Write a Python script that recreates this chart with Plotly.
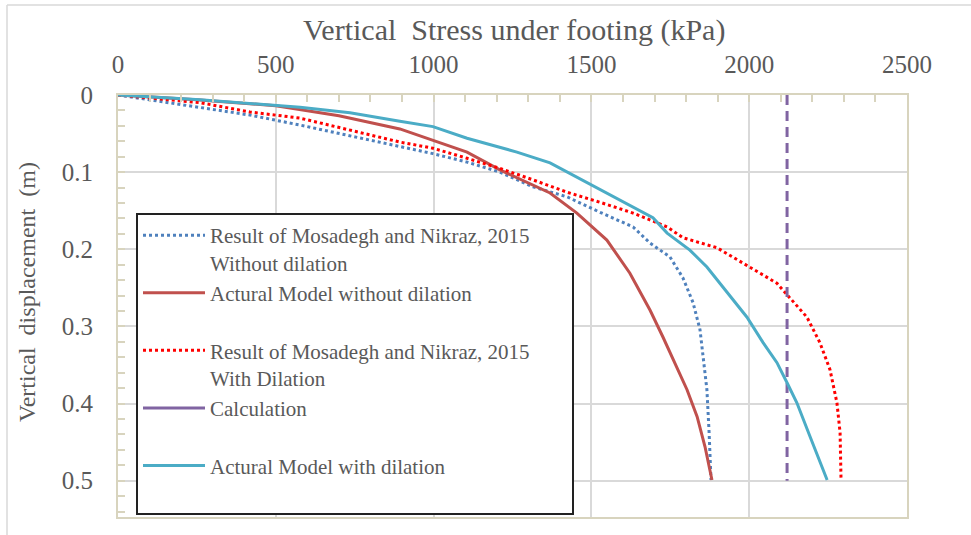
import plotly.graph_objects as go

# ---- data ----
mn_nodil_stress = [0, 260, 418, 577, 893, 998, 1106, 1210, 1315, 1423, 1527, 1632, 1686, 1749, 1790, 1822, 1844, 1854, 1866, 1873, 1879]
mn_nodil_disp = [0, 0.016, 0.026, 0.039, 0.067, 0.076, 0.087, 0.100, 0.119, 0.132, 0.152, 0.171, 0.192, 0.210, 0.237, 0.269, 0.304, 0.339, 0.382, 0.438, 0.499]

model_nodil_stress = [0, 250, 500, 700, 893, 1106, 1210, 1369, 1454, 1549, 1622, 1686, 1727, 1765, 1803, 1835, 1860, 1882]
model_nodil_disp = [0, 0.006, 0.014, 0.027, 0.044, 0.074, 0.097, 0.127, 0.153, 0.188, 0.231, 0.279, 0.314, 0.347, 0.382, 0.417, 0.456, 0.499]

mn_dil_stress = [0, 260, 418, 577, 893, 998, 1106, 1210, 1315, 1423, 1527, 1632, 1740, 1790, 1898, 2003, 2088, 2129, 2183, 2224, 2256, 2278, 2288, 2291]
mn_dil_disp = [0, 0.010, 0.022, 0.030, 0.061, 0.069, 0.082, 0.095, 0.110, 0.126, 0.139, 0.153, 0.171, 0.185, 0.198, 0.223, 0.244, 0.263, 0.288, 0.321, 0.356, 0.399, 0.438, 0.499]

calc_stress = [2120, 2120]
calc_disp = [0, 0.5]

model_dil_stress = [0, 260, 577, 735, 893, 998, 1106, 1264, 1369, 1442, 1527, 1632, 1695, 1740, 1812, 1866, 1917, 1993, 2044, 2088, 2120, 2151, 2193, 2247]
model_dil_disp = [0, 0.006, 0.016, 0.023, 0.034, 0.041, 0.056, 0.074, 0.088, 0.104, 0.123, 0.145, 0.159, 0.179, 0.201, 0.223, 0.249, 0.288, 0.321, 0.347, 0.373, 0.399, 0.443, 0.499]

x_ticks = [0, 500, 1000, 1500, 2000, 2500]
y_ticks = [0, 0.1, 0.2, 0.3, 0.4, 0.5]
y_tick_labels = ["0", "0.1", "0.2", "0.3", "0.4", "0.5"]

PAD = "\u00a0" * 7
names = [
    "Result of Mosadegh and Nikraz, 2015" + PAD + "<br>Without dilation",
    "Actural Model without dilation<br>\u00a0",
    "Result of Mosadegh and Nikraz, 2015<br>With Dilation",
    "Calculation<br>\u00a0",
    "Actural Model with dilation<br>\u00a0",
]

FONT = "Liberation Serif, Times New Roman, serif"
TXT = "#595959"
AX = "#D8D4BE"
GRID = "#D9D9D9"

fig = go.Figure()
fig.add_trace(go.Scatter(x=mn_nodil_stress, y=mn_nodil_disp, mode="lines", name=names[0],
                         line=dict(color="#4F81BD", width=3, dash="dot")))
fig.add_trace(go.Scatter(x=model_nodil_stress, y=model_nodil_disp, mode="lines", name=names[1],
                         line=dict(color="#C0504D", width=3)))
fig.add_trace(go.Scatter(x=mn_dil_stress, y=mn_dil_disp, mode="lines", name=names[2],
                         line=dict(color="#FF0000", width=3, dash="dot")))
fig.add_trace(go.Scatter(x=calc_stress, y=calc_disp, mode="lines", name=names[3], showlegend=False,
                         legendgroup="calc", line=dict(color="#8064A2", width=3, dash="10px,6px")))
fig.add_trace(go.Scatter(x=[None], y=[None], mode="lines", name=names[3], legendgroup="calc",
                         line=dict(color="#8064A2", width=3)))
fig.add_trace(go.Scatter(x=model_dil_stress, y=model_dil_disp, mode="lines", name=names[4],
                         line=dict(color="#4BACC6", width=3)))

L, R, T, B = 118, 64, 95, 18
W, H = 971, 535
pw, ph = W - L - R, H - T - B


def px(x):
    return (x - L) / pw


def py(y):
    return (H - B - y) / ph


fig.update_layout(
    width=W, height=H,
    margin=dict(l=L, r=R, t=T, b=B, autoexpand=False),
    paper_bgcolor="white", plot_bgcolor="white",
    font=dict(family=FONT, color=TXT),
    showlegend=True,
    legend=dict(
        x=px(136), y=py(213), xanchor="left", yanchor="top",
        bgcolor="white", bordercolor="#222222", borderwidth=2,
        font=dict(family=FONT, size=21, color=TXT),
        valign="top", itemwidth=62, tracegroupgap=0,
        traceorder="normal",
    ),
    xaxis=dict(
        side="top", range=[0, 2500], tickvals=x_ticks,
        showgrid=True, gridcolor=GRID, gridwidth=1.5,
        showline=True, linecolor=AX, linewidth=2, mirror=True,
        ticks="inside", ticklen=7, tickcolor=AX, tickwidth=1.5,
        minor=dict(dtick=100, ticks="inside", ticklen=7, tickcolor=AX, tickwidth=1.5, showgrid=False),
        tickfont=dict(family=FONT, size=25, color=TXT),
        ticklabelstandoff=10, automargin=False,
        zeroline=False,
    ),
    yaxis=dict(
        range=[0.547, 0], tickvals=y_ticks, ticktext=y_tick_labels,
        showgrid=True, gridcolor=GRID, gridwidth=1.5,
        showline=True, linecolor=AX, linewidth=2, mirror=True,
        ticks="inside", ticklen=7, tickcolor=AX, tickwidth=1.5,
        minor=dict(dtick=0.02, tick0=0, ticks="inside", ticklen=7, tickcolor=AX, tickwidth=1.5, showgrid=False),
        tickfont=dict(family=FONT, size=25, color=TXT),
        ticklabelstandoff=18, automargin=False,
        zeroline=False,
    ),
    annotations=[
        dict(text="Vertical  Stress under footing (kPa)", xref="paper", yref="paper",
             x=px(514), y=py(30), xanchor="center", yanchor="middle", showarrow=False,
             font=dict(family=FONT, size=30, color=TXT)),
        dict(text="Vertical  displacement  (m)", xref="paper", yref="paper",
             x=px(27), y=py(292), xanchor="center", yanchor="middle", showarrow=False,
             textangle=-90, font=dict(family=FONT, size=24, color=TXT)),
    ],
    shapes=[
        dict(type="line", xref="paper", yref="paper", x0=px(7), x1=px(975), y0=py(5), y1=py(5),
             line=dict(color=GRID, width=1.5)),
        dict(type="line", xref="paper", yref="paper", x0=px(7), x1=px(7), y0=py(5), y1=py(540),
             line=dict(color=GRID, width=1.5)),
    ],
)

fig.write_html("out.html", config={"displayModeBar": False},
               post_script="document.body.style.margin='0';document.body.style.overflow='hidden';")
